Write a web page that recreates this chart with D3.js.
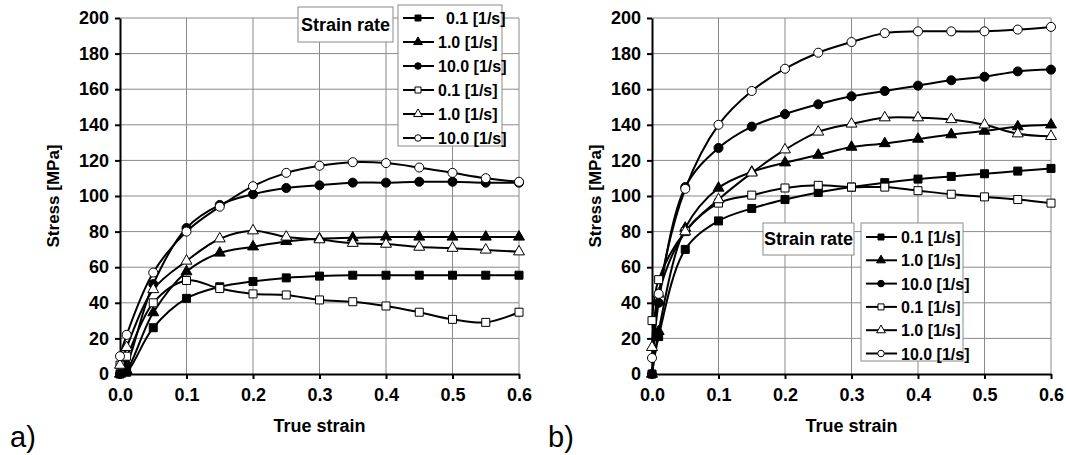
<!DOCTYPE html>
<html>
<head>
<meta charset="utf-8">
<script src="https://cdn.jsdelivr.net/npm/d3@7"></script>
<style>
  body { margin: 0; background: #fff; }
  text { font-family: "Liberation Sans", Arial, sans-serif; }
</style>
</head>
<body>
<svg id="chart" width="1066" height="455"></svg>
<script>
// Data
var strain = [0, 0.01, 0.05, 0.1, 0.15, 0.2, 0.25, 0.3, 0.35, 0.4, 0.45, 0.5, 0.55, 0.6];
var strainTicks = [0, 0.1, 0.2, 0.3, 0.4, 0.5, 0.6];
var stressTicks = [0, 20, 40, 60, 80, 100, 120, 140, 160, 180, 200];
var legendLabels = ["0.1 [1/s]", "1.0 [1/s]", "10.0 [1/s]", "0.1 [1/s]", "1.0 [1/s]", "10.0 [1/s]"];
var markerTypes = ["square", "triangle", "circle", "square", "triangle", "circle"];
var markerFilled = [true, true, true, false, false, false];

// Panel a)
var a_fillSquare = [0, 1, 26, 42.5, 49, 52, 54, 55, 55.5, 55.5, 55.5, 55.5, 55.5, 55.5];
var a_fillTriangle = [0, 2, 34.5, 57.5, 68, 71.5, 74.5, 76, 76.5, 77, 77, 77, 77, 77];
var a_fillCircle = [0, 5, 50.5, 82, 95, 101, 104.5, 106, 107.5, 107.5, 108, 108, 107.5, 107.5];
var a_openSquare = [5, 10, 40, 52.5, 48, 45, 44.4, 41.6, 40.6, 38.2, 34.7, 30.7, 29, 34.7];
var a_openTriangle = [5, 15, 47.5, 63.5, 76, 80.5, 77, 75.5, 73.5, 73, 71.3, 70.7, 69.7, 68.7];
var a_openCircle = [10, 22, 57, 80, 94, 105.5, 113, 117, 119, 118.5, 116, 113, 110, 108];

// Panel b)
var b_fillSquare = [0, 21, 70, 86, 93, 98, 102, 105, 107.5, 109.5, 111, 112.5, 114, 115.5];
var b_fillTriangle = [0, 24, 82, 104.5, 113.5, 118.7, 123, 127.5, 129.5, 132, 134.5, 136.5, 139, 140];
var b_fillCircle = [0, 40, 105, 127, 139, 146, 151.5, 156, 159, 162, 165, 167, 170, 171];
var b_openSquare = [30, 53, 80, 96, 100.5, 104.5, 106, 105, 105, 103, 101, 99.5, 98, 96];
var b_openTriangle = [15, 45, 80, 98, 113, 126, 136, 140.5, 144, 144, 143, 140, 135, 133.5];
var b_openCircle = [9, 45, 104, 140, 159, 171.5, 180.5, 186.5, 191.5, 192.5, 192.5, 192.5, 193.5, 195];

var svg = d3.select("#chart");

function symbolFor(type, big) {
    var shapes = { square: d3.symbolSquare, triangle: d3.symbolTriangle, circle: d3.symbolCircle };
    var sizes = big ? { square: 64, triangle: 52, circle: 64 } : { square: 36, triangle: 34, circle: 34 };
    return d3.symbol().type(shapes[type]).size(sizes[type]);
}

function drawPanel(p) {
    var x = d3.scaleLinear().domain([0, 0.6]).range([p.left, p.left + 399]);
    var y = d3.scaleLinear().domain([0, 200]).range([374, 18]);
    var g = svg.append("g");

    // Grid
    g.selectAll(".hgrid").data(stressTicks.slice(1)).enter().append("line")
        .attr("x1", x(0)).attr("x2", x(0.6))
        .attr("y1", function(d) { return y(d); }).attr("y2", function(d) { return y(d); })
        .attr("stroke", "#8a8a8a").attr("stroke-width", 1);
    g.selectAll(".vgrid").data(strainTicks.slice(1)).enter().append("line")
        .attr("x1", function(d) { return x(d); }).attr("x2", function(d) { return x(d); })
        .attr("y1", y(0)).attr("y2", y(200))
        .attr("stroke", "#8a8a8a").attr("stroke-width", 1);

    // Axes
    var xAxis = g.append("g")
        .attr("transform", "translate(0," + y(0) + ")")
        .call(d3.axisBottom(x).tickValues(strainTicks).tickFormat(d3.format(".1f")).tickSize(5).tickSizeOuter(0).tickPadding(9));
    var yAxis = g.append("g")
        .attr("transform", "translate(" + x(0) + ",0)")
        .call(d3.axisLeft(y).tickValues(stressTicks).tickSize(5).tickSizeOuter(0).tickPadding(6));
    [xAxis, yAxis].forEach(function(ax) {
        ax.selectAll("path, line").attr("stroke", "#000").attr("stroke-width", 2);
        ax.selectAll("text").attr("font-family", "Liberation Sans, Arial, sans-serif")
            .attr("font-size", 18).attr("font-weight", "bold").attr("fill", "#000");
    });

    // Axis titles
    g.append("text")
        .attr("x", (x(0) + x(0.6)) / 2).attr("y", 432)
        .attr("text-anchor", "middle").attr("font-size", 18).attr("font-weight", "bold")
        .text("True strain");
    g.append("text")
        .attr("transform", "translate(" + p.yLabelX + "," + (y(100)) + ") rotate(-90)")
        .attr("text-anchor", "middle").attr("font-size", 17).attr("font-weight", "bold")
        .text("Stress [MPa]");

    // Curves
    var line = d3.line()
        .x(function(d) { return x(d[0]); })
        .y(function(d) { return y(d[1]); })
        .curve(d3.curveCatmullRom.alpha(0.5));
    p.series.forEach(function(vals, i) {
        var pts = strain.map(function(s, k) { return [s, vals[k]]; });
        g.append("path").datum(pts).attr("d", line)
            .attr("fill", "none").attr("stroke", "#000").attr("stroke-width", 2);
    });
    p.series.forEach(function(vals, i) {
        var pts = strain.map(function(s, k) { return [s, vals[k]]; });
        g.selectAll(".m" + i).data(pts).enter().append("path")
            .attr("d", symbolFor(markerTypes[i], true))
            .attr("transform", function(d) { return "translate(" + x(d[0]) + "," + y(d[1]) + ")"; })
            .attr("fill", markerFilled[i] ? "#000" : "#fff")
            .attr("stroke", "#000").attr("stroke-width", 1);
    });

    // "Strain rate" box
    var t = p.title;
    g.append("rect").attr("x", t.x).attr("y", t.y).attr("width", t.w).attr("height", t.h)
        .attr("fill", "#fff").attr("stroke", "#8a8a8a").attr("stroke-width", 1);
    g.append("text").attr("x", t.x + t.w / 2).attr("y", t.y + t.h / 2 + 6)
        .attr("text-anchor", "middle").attr("font-size", 18).attr("font-weight", "bold")
        .text("Strain rate");

    // Legend
    var L = p.legend;
    g.append("rect").attr("x", L.x).attr("y", L.y).attr("width", L.w).attr("height", L.h)
        .attr("fill", "#fff").attr("stroke", "#8a8a8a").attr("stroke-width", 1);
    legendLabels.forEach(function(lab, i) {
        var cy = L.first + i * L.step;
        g.append("line").attr("x1", L.x + 5).attr("x2", L.x + 36)
            .attr("y1", cy).attr("y2", cy).attr("stroke", "#000").attr("stroke-width", 2);
        g.append("path").attr("d", symbolFor(markerTypes[i], false))
            .attr("transform", "translate(" + (L.x + 20) + "," + cy + ")")
            .attr("fill", markerFilled[i] ? "#000" : "#fff")
            .attr("stroke", "#000").attr("stroke-width", 1);
        g.append("text").attr("x", L.x + 40 + (i === 0 ? L.indentFirst : 0)).attr("y", cy + 6)
            .attr("font-size", 16).attr("font-weight", "bold")
            .text(lab);
    });

    // Panel letter
    g.append("text").attr("x", p.letterX).attr("y", 447)
        .attr("font-family", "Liberation Serif, Times New Roman, serif")
        .attr("font-size", 29).text(p.letter);
}

drawPanel({
    left: 120, yLabelX: 59, letter: "a)", letterX: 10,
    series: [a_fillSquare, a_fillTriangle, a_fillCircle, a_openSquare, a_openTriangle, a_openCircle],
    title: { x: 298, y: 7, w: 95, h: 35 },
    legend: { x: 398, y: 5, w: 104, h: 141, first: 18, step: 24, indentFirst: 8 }
});
drawPanel({
    left: 652, yLabelX: 601, letter: "b)", letterX: 548,
    series: [b_fillSquare, b_fillTriangle, b_fillCircle, b_openSquare, b_openTriangle, b_openCircle],
    title: { x: 763, y: 223, w: 91, h: 32 },
    legend: { x: 861, y: 223, w: 102, h: 138, first: 237, step: 23.3, indentFirst: 0 }
});
</script>
</body>
</html>
